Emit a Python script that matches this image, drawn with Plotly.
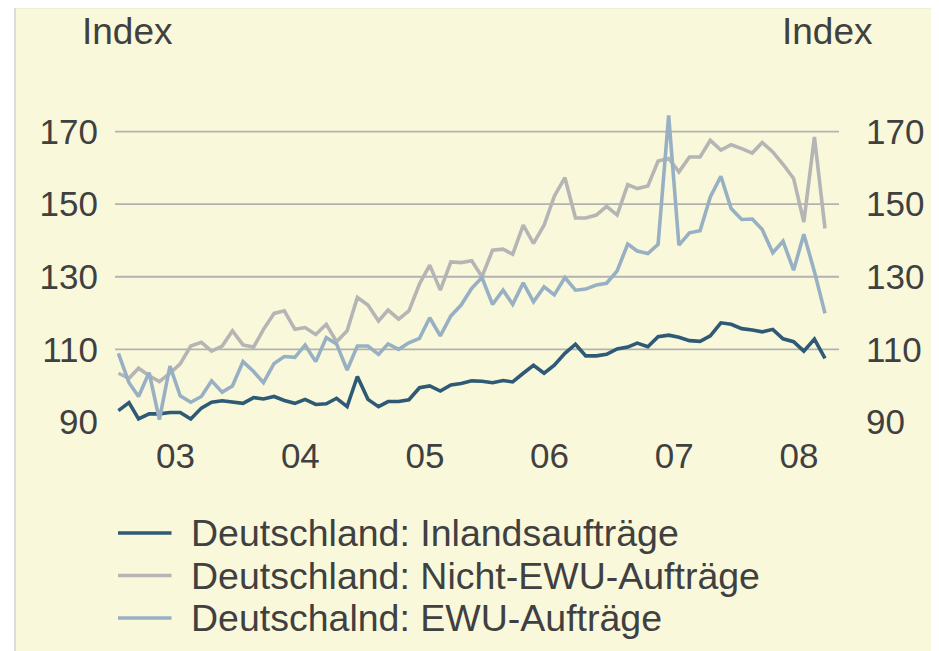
import pandas as pd
import plotly.graph_objects as go

months = pd.date_range("2003-01-01", periods=69, freq="MS") + pd.Timedelta(days=14)

inland = [93.1, 95.3, 90.8, 92.2, 92.2, 92.6, 92.6, 90.8, 93.8, 95.4, 95.8, 95.4,
          95.1, 96.7, 96.3, 97.0, 95.9, 95.1, 96.2, 94.8, 95.0, 96.5, 94.2, 102.5,
          96.2, 94.2, 95.6, 95.6, 96.1, 99.4, 99.9, 98.5, 100.2, 100.6, 101.3, 101.2,
          100.8, 101.4, 101.0, 103.4, 105.6, 103.4, 105.6, 108.9, 111.4, 108.2, 108.2,
          108.6, 110.1, 110.6, 111.7, 110.7, 113.5, 113.9, 113.3, 112.4, 112.2, 113.7,
          117.3, 116.9, 115.7, 115.3, 114.8, 115.5, 112.9, 112.1, 109.5, 112.8, 107.5]

nicht_ewu = [103.4, 102.0, 104.8, 102.7, 101.1, 103.4, 106.0, 110.9, 111.9, 109.5, 110.9, 115.1,
             111.2, 110.6, 115.5, 119.9, 120.6, 115.5, 116.0, 114.1, 116.9, 112.1, 115.1, 124.3,
             122.2, 117.8, 120.8, 118.3, 120.6, 128.0, 133.2, 126.3, 134.1, 133.9, 134.4, 130.0,
             137.3, 137.6, 136.2, 144.2, 139.2, 144.2, 152.2, 157.3, 146.2, 146.2, 147.0,
             149.4, 147.0, 155.4, 154.3, 155.0, 161.9, 162.6, 158.9, 163.0, 163.0, 167.6,
             164.9, 166.4, 165.3, 164.1, 167.0, 164.4, 161.0, 157.1, 145.1, 168.5, 143.3]

ewu = [108.9, 100.8, 97.0, 103.6, 90.6, 105.4, 97.2, 95.4, 97.0, 101.3, 98.2, 99.9,
       106.6, 103.9, 100.8, 106.1, 108.0, 107.8, 111.2, 106.6, 113.2, 111.5, 104.3, 110.9,
       110.9, 108.6, 111.5, 110.0, 111.8, 113.0, 118.7, 113.7, 119.2, 122.2, 126.8, 129.8,
       122.4, 126.3, 122.4, 128.3, 123.1, 127.2, 125.0, 129.8, 126.3, 126.6, 127.7,
       128.2, 131.6, 139.0, 137.1, 136.4, 138.9, 174.5, 138.7, 142.1, 142.7, 152.0,
       157.7, 148.8, 145.8, 145.9, 143.0, 136.6, 139.8, 131.8, 141.7, 131.4, 119.9]

series_names = ["Deutschland: Inlandsaufträge",
                "Deutschland: Nicht-EWU-Aufträge",
                "Deutschalnd: EWU-Aufträge"]
series_colors = ["#2E5A76", "#B5B5B5", "#98B0C3"]

year_ticks = ["2003-07-01", "2004-07-01", "2005-07-01", "2006-07-01", "2007-07-01", "2008-07-01"]
year_labels = ["03", "04", "05", "06", "07", "08"]
y_ticks = [90, 110, 130, 150, 170]
grid_vals = [110, 130, 150, 170]

FONT = "Arial, Liberation Sans, Helvetica, sans-serif"
TXT = "#404040"

# page offset (body margin) and plot-area geometry in screen pixels
OFF = 8
W, H = 939 - OFF, 651 - OFF
L, R, T, B = 115, 839, 95, 440
PW, PH = R - L, B - T


def px(x):
    return (x - L) / PW


def py(y):
    return (B - y) / PH


fig = go.Figure()
for vals, name, col in zip([inland, nicht_ewu, ewu], series_names, series_colors):
    fig.add_trace(go.Scatter(x=months, y=vals, mode="lines", name=name,
                             line=dict(color=col, width=3.6), showlegend=False))
fig.add_trace(go.Scatter(x=[months[0]], y=[None], yaxis="y2", showlegend=False, hoverinfo="skip"))

shapes = [dict(type="rect", xref="paper", yref="paper",
               x0=px(15), x1=px(937.5), y0=py(665), y1=py(7.5),
               fillcolor="#FAF8DA", line=dict(color="#D2D2D2", width=1.5), layer="below")]
for g in grid_vals:
    shapes.append(dict(type="line", xref="paper", yref="y", x0=0, x1=1, y0=g, y1=g,
                       line=dict(color="#B2B2B2", width=1.8), layer="below"))

annotations = [
    dict(text="Index", xref="paper", yref="paper", x=px(127), y=py(32),
         xanchor="center", yanchor="middle", showarrow=False, font=dict(size=37, color=TXT)),
    dict(text="Index", xref="paper", yref="paper", x=px(827), y=py(32),
         xanchor="center", yanchor="middle", showarrow=False, font=dict(size=37, color=TXT)),
]

# legend rows
legend_rows_y = [533, 575.5, 618]
for name, col, ly in zip(series_names, series_colors, legend_rows_y):
    shapes.append(dict(type="line", xref="paper", yref="paper",
                       x0=px(118), x1=px(171.5), y0=py(ly), y1=py(ly),
                       line=dict(color=col, width=3.6)))
    annotations.append(dict(text=name, xref="paper", yref="paper", x=px(189), y=py(ly),
                            xanchor="left", yanchor="middle", showarrow=False,
                            font=dict(size=37.5, color=TXT)))

fig.update_layout(
    width=W, height=H,
    margin=dict(l=L - OFF, r=W - (R - OFF), t=T - OFF, b=H - (B - OFF), autoexpand=False),
    paper_bgcolor="white", plot_bgcolor="rgba(0,0,0,0)",
    font=dict(family=FONT, size=35, color=TXT),
    shapes=shapes, annotations=annotations, showlegend=False,
    xaxis=dict(range=["2003-01-05", "2008-10-26"], tickvals=year_ticks, ticktext=year_labels,
               showgrid=False, zeroline=False, showline=False, ticks="",
               tickfont=dict(size=35, color=TXT), ticklabelstandoff=-8),
    yaxis=dict(range=[85, 180.1], tickvals=y_ticks, showgrid=False, zeroline=False,
               showline=False, ticks="", tickfont=dict(size=35, color=TXT),
               ticklabelstandoff=16),
    yaxis2=dict(range=[85, 180.1], tickvals=y_ticks, overlaying="y", side="right",
                anchor="x", showgrid=False, zeroline=False, showline=False, ticks="",
                tickfont=dict(size=35, color=TXT), ticklabelstandoff=26),
)

fig.write_html("out.html")
